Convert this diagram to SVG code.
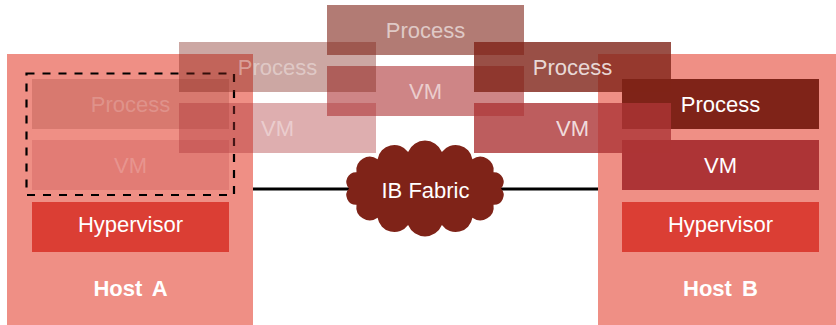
<svg xmlns="http://www.w3.org/2000/svg" width="836" height="325" viewBox="0 0 836 325">
  <style>
    text { font-family: "Liberation Sans", Arial, sans-serif; font-size: 22px; fill: #ffffff; text-anchor: middle; }
    .label { font-weight: bold; word-spacing: 4px; }
    .host { fill: #EF8F85; }
    .hyp { fill: #DB3E34; }
    .vm { fill: #AD3436; }
    .proc { fill: #7F2318; }
    .step0 { fill-opacity: 0.2; }
    .step1 { fill-opacity: 0.4; }
    .step2 { fill-opacity: 0.6; }
    .step3 { fill-opacity: 0.8; }
  </style>

  <!-- Host A -->
  <g id="hostA">
    <rect class="host" x="7" y="54" width="246" height="271"/>
    <rect class="hyp" x="32" y="202" width="197" height="50"/>
    <text x="130.5" y="232.3">Hypervisor</text>
    <text class="label" x="130.5" y="296">Host A</text>
  </g>

  <!-- Host B -->
  <g id="hostB">
    <rect class="host" x="598" y="54" width="246" height="271"/>
    <rect class="hyp" x="622" y="202" width="197" height="50"/>
    <text x="720.5" y="232.3">Hypervisor</text>
    <text class="label" x="720.5" y="296">Host B</text>
  </g>

  <!-- VM stack left behind on Host A (faded) -->
  <g id="vmA" class="step0">
    <rect class="vm" x="32" y="140" width="197" height="50"/>
    <text x="130.5" y="172.7">VM</text>
    <rect class="proc" x="32" y="79" width="197" height="50"/>
    <text x="130.5" y="111.7">Process</text>
  </g>

  <!-- migration boundary -->
  <rect id="migrated" x="26.5" y="73.5" width="207.5" height="121.5" fill="none" stroke="#000" stroke-width="2.2" stroke-dasharray="8 8"/>

  <!-- VM stack arrived on Host B -->
  <g id="vmB">
    <rect class="proc" x="622" y="79" width="197" height="50"/>
    <text x="720.5" y="111.7">Process</text>
    <rect class="vm" x="622" y="140" width="197" height="50"/>
    <text x="720.5" y="172.7">VM</text>
  </g>

  <!-- connectors -->
  <g id="connectors">
    <line x1="253" y1="189" x2="598" y2="189" stroke="#000" stroke-width="2.8"/>
  </g>

  <!-- IB Fabric cloud: 14 puffs on an ellipse -->
  <g id="fabric">
    <path class="proc" d="M 501 188.5
      A 9.7 9.7 0 0 0 493.5 172.2
      A 13.4 13.4 0 0 0 472.4 159.2
      A 17 17 0 0 0 441.9 151.9
      A 18.3 18.3 0 0 0 408.1 151.9
      A 17 17 0 0 0 377.6 159.2
      A 13.4 13.4 0 0 0 356.5 172.2
      A 9.7 9.7 0 0 0 349 188.5
      A 9.7 9.7 0 0 0 356.5 204.8
      A 13.4 13.4 0 0 0 377.6 217.8
      A 17 17 0 0 0 408.1 225.1
      A 18.3 18.3 0 0 0 441.9 225.1
      A 17 17 0 0 0 472.4 217.8
      A 13.4 13.4 0 0 0 493.5 204.8
      A 9.7 9.7 0 0 0 501 188.5 Z"/>
    <text x="425.5" y="198.3">IB Fabric</text>
  </g>

  <!-- in-flight VM layers -->
  <g id="vm1" class="step1">
    <rect class="vm" x="179" y="103" width="197" height="50"/>
    <text x="277.5" y="135.7">VM</text>
  </g>
  <g id="vm2" class="step2">
    <rect class="vm" x="327" y="66" width="197" height="50"/>
    <text x="425.5" y="98.7">VM</text>
  </g>
  <g id="vm3" class="step3">
    <rect class="vm" x="474" y="103" width="197" height="50"/>
    <text x="572.5" y="135.7">VM</text>
  </g>

  <!-- in-flight Process layers -->
  <g id="proc1" class="step1">
    <rect class="proc" x="179" y="42" width="197" height="50"/>
    <text x="277.5" y="74.7">Process</text>
  </g>
  <g id="proc2" class="step2">
    <rect class="proc" x="327" y="5" width="197" height="50"/>
    <text x="425.5" y="37.7">Process</text>
  </g>
  <g id="proc3" class="step3">
    <rect class="proc" x="474" y="42" width="197" height="50"/>
    <text x="572.5" y="74.7">Process</text>
  </g>
</svg>
